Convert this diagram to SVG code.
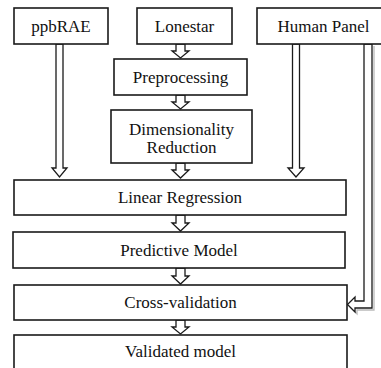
<svg xmlns="http://www.w3.org/2000/svg" width="381" height="368" viewBox="0 0 381 368">
<style>
.box{fill:#fff;stroke:#1a1a1a;stroke-width:1.6}
.t{font-family:"Liberation Serif","Times New Roman",serif;font-size:17px;fill:#111;text-anchor:middle}
.arr{fill:#fff;stroke:#1a1a1a;stroke-width:1.3;stroke-linejoin:miter}
.sh{fill:none;stroke:#bbb;stroke-width:1.3}
</style>
<rect width="381" height="368" fill="#fff"/>
<g id="connectors">
<polygon class="arr" points="56,44 63,44 63,168 67,168 59.5,177 52,168 56,168"/>
<polygon class="arr" points="292.5,44 299.5,44 299.5,168 304,168 296,177 288,168 292.5,168"/>
<polygon class="arr" points="176,44 185,44 185,51 189,51 180.5,58 172,51 176,51"/>
<polygon class="arr" points="176,95 185,95 185,102 189,102 180.5,109 172,102 176,102"/>
<polygon class="arr" points="176,163 185,163 185,170 189,170 180.5,178 172,170 176,170"/>
<polygon class="arr" points="176,215 185,215 185,223 189,223 180.5,231 172,223 176,223"/>
<polygon class="arr" points="176,268 185,268 185,276 189,276 180.5,284 172,276 176,276"/>
<polygon class="arr" points="176,320 185,320 185,327 189,327 180.5,334 172,327 176,327"/>
<polyline class="sh" points="374,46 374,310 357,310 357,314 350,307"/>
<polygon class="arr" points="364,44 364,301 355,301 355,297 347.5,304.5 355,312 355,308 372,308 372,44"/>
</g>
<g id="ppbRAE"><rect class="box" x="14" y="8" width="94" height="36"/><text class="t" x="61" y="32">ppbRAE</text></g>
<g id="lonestar"><rect class="box" x="137" y="8" width="95" height="36"/><text class="t" x="184.5" y="32">Lonestar</text></g>
<g id="humanpanel"><rect class="box" x="257" y="8" width="134" height="36"/><text class="t" x="323.5" y="32">Human Panel</text></g>
<g id="preprocessing"><rect class="box" x="114" y="59" width="133" height="36"/><text class="t" x="180.5" y="83">Preprocessing</text></g>
<g id="dimred"><rect class="box" x="111" y="110" width="141" height="53"/><text class="t" x="181.5" y="135">Dimensionality</text><text class="t" x="181.5" y="153">Reduction</text></g>
<g id="linreg"><rect class="box" x="14" y="180" width="332" height="35"/><text class="t" x="180" y="203">Linear Regression</text></g>
<g id="predmodel"><rect class="box" x="13" y="232" width="332" height="36"/><text class="t" x="179" y="256">Predictive Model</text></g>
<g id="crossval"><rect class="box" x="14" y="285" width="333" height="35"/><text class="t" x="180.5" y="308">Cross-validation</text></g>
<g id="validated"><rect class="box" x="14" y="335" width="333" height="40"/><text class="t" x="180.5" y="357">Validated model</text></g>
</svg>
